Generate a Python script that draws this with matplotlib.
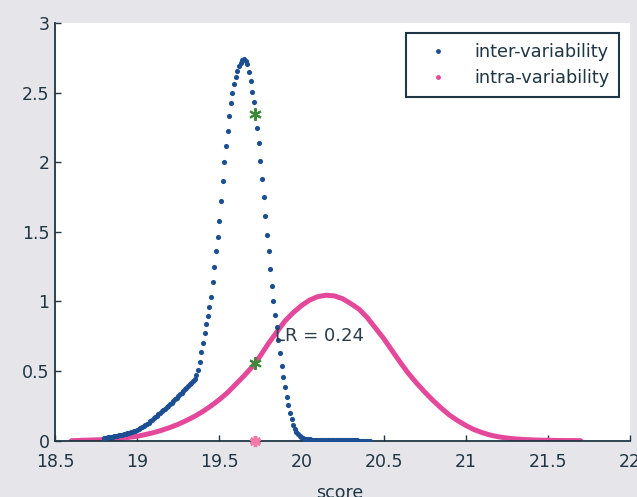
import numpy as np
import matplotlib
matplotlib.use("Agg")
import matplotlib.pyplot as plt
from matplotlib.lines import Line2D

plt.rcParams['font.family'] = ['DejaVu Sans']

# ---- data ----
inter_x_start, inter_x_step = 18.80, 0.01
inter_y = [
    0.020, 0.022, 0.024, 0.026, 0.028, 0.030, 0.032, 0.034, 0.036, 0.038,
    0.040, 0.043, 0.046, 0.049, 0.052, 0.055, 0.059, 0.063, 0.067, 0.071,
    0.075, 0.082, 0.089, 0.096, 0.103, 0.110, 0.120, 0.130, 0.140, 0.150,
    0.160, 0.170, 0.180, 0.190, 0.200, 0.210, 0.220, 0.230, 0.240, 0.250,
    0.260, 0.272, 0.284, 0.296, 0.308, 0.320, 0.332, 0.344, 0.356, 0.368,
    0.380, 0.392, 0.404, 0.416, 0.428, 0.445, 0.470, 0.505, 0.565, 0.635,
    0.705, 0.770, 0.835, 0.895, 0.960, 1.035, 1.140, 1.250, 1.360, 1.465,
    1.580, 1.720, 1.865, 2.000, 2.120, 2.225, 2.330, 2.425, 2.500, 2.560,
    2.610, 2.655, 2.690, 2.715, 2.735, 2.740, 2.730, 2.705, 2.650, 2.585,
    2.505, 2.430, 2.345, 2.245, 2.135, 2.010, 1.880, 1.750, 1.615, 1.480,
    1.365, 1.235, 1.110, 1.000, 0.905, 0.815, 0.725, 0.630, 0.540, 0.460,
    0.385, 0.315, 0.255, 0.200, 0.155, 0.115, 0.085, 0.062, 0.046, 0.035,
    0.026, 0.020, 0.015, 0.012, 0.010, 0.009, 0.008, 0.008, 0.007, 0.007,
    0.006, 0.006, 0.006, 0.005, 0.005, 0.005, 0.005, 0.004, 0.004, 0.004,
    0.004, 0.004, 0.003, 0.003, 0.003, 0.003, 0.003, 0.003, 0.002, 0.002,
    0.002, 0.002, 0.002, 0.002, 0.002, 0.001, 0.001, 0.001, 0.001, 0.001,
    0.001, 0.001, 0.001,
]
intra_x_start, intra_x_step = 18.60, 0.05
intra_y = [
    0.000, 0.002, 0.004, 0.006, 0.008, 0.012, 0.017, 0.024, 0.032, 0.044,
    0.058, 0.075, 0.095, 0.118, 0.145, 0.175, 0.210, 0.250, 0.295, 0.345,
    0.405, 0.465, 0.530, 0.610, 0.700, 0.780, 0.860, 0.920, 0.970, 1.010,
    1.035, 1.045, 1.040, 1.020, 0.985, 0.945, 0.885, 0.810, 0.735, 0.650,
    0.565, 0.485, 0.415, 0.350, 0.290, 0.235, 0.185, 0.145, 0.110, 0.080,
    0.058, 0.040, 0.028, 0.019, 0.013, 0.009, 0.006, 0.004, 0.003, 0.002,
    0.001, 0.001, 0.000,
]
score_x = 19.72
inter_at_score = 2.345
intra_at_score = 0.555
lr_label = "LR = 0.24"
legend_labels = ["inter-variability", "intra-variability"]
x_ticks = [18.5, 19, 19.5, 20, 20.5, 21, 21.5, 22]
x_ticklabels = ["18.5", "19", "19.5", "20", "20.5", "21", "21.5", "22"]
y_ticks = [0, 0.5, 1, 1.5, 2, 2.5, 3]
y_ticklabels = ["0", "0.5", "1", "1.5", "2", "2.5", "3"]

inter_x = np.round(inter_x_start + inter_x_step * np.arange(len(inter_y)), 3)
intra_x = np.round(intra_x_start + intra_x_step * np.arange(len(intra_y)), 3)

# ---- style ----
BLUE = '#1b4f91'
PINK = '#e4489a'
GREEN = '#3d8a3a'
DARK = '#1f3644'
BG = '#e6e6ea'

fig = plt.figure(figsize=(6.37, 4.97), dpi=100, facecolor=BG)
ax = fig.add_axes([55/637, 1-440.7/497, (630-55)/637, (440.7-23)/497])
ax.set_facecolor('white')

ax.plot(intra_x, intra_y, '-', color=PINK, lw=3.6, solid_capstyle='round', zorder=2)
ax.plot(inter_x, inter_y, 'o', color=BLUE, ms=3.7, mew=0, zorder=3)

ax.plot([score_x, score_x], [inter_at_score, intra_at_score], ls='none',
        marker=(6, 2, 0), ms=9, mew=1.5, color=GREEN, zorder=4)
ax.plot([score_x], [0], ls='none', marker=(6, 2, 0), ms=8, mew=2.5,
        color='#f07aa8', zorder=4, clip_on=False)

ax.text(19.84, 0.755, lr_label, fontsize=13, color='#2a3e48', va='center', ha='left', zorder=5)

ax.set_xlim(18.5, 22)
ax.set_ylim(0, 3)
ax.set_xticks(x_ticks)
ax.set_xticklabels(x_ticklabels)
ax.set_yticks(y_ticks)
ax.set_yticklabels(y_ticklabels)
ax.tick_params(direction='in', length=4, width=1, colors=DARK, labelsize=12.5, pad=4)
ax.tick_params(axis='x', pad=8.5)
for s in ['top', 'right']:
    ax.spines[s].set_visible(False)
for s in ['left', 'bottom']:
    ax.spines[s].set_color(DARK)
    ax.spines[s].set_linewidth(1.3)

handles = [Line2D([], [], ls='none', marker='o', ms=3.5, mew=0, color=BLUE),
           Line2D([], [], ls='none', marker='o', ms=3.5, mew=0, color=PINK)]
leg = ax.legend(handles, legend_labels, loc='upper right', bbox_to_anchor=(0.981, 0.976),
                borderaxespad=0, fontsize=12.8, frameon=True, fancybox=False,
                framealpha=1, edgecolor=DARK, handlelength=2.5, handletextpad=0.8,
                borderpad=0.55, labelspacing=0.45)
leg.get_frame().set_linewidth(1.5)
for t in leg.get_texts():
    t.set_color(DARK)

fig.text(340/637, 1-484/497, 'score', ha='center', va='top', fontsize=12.5, color=DARK)

fig.savefig('out.png', dpi=100, facecolor=BG)
